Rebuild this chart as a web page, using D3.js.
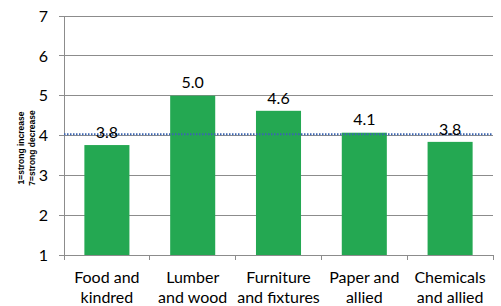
<!DOCTYPE html>
<html><head><meta charset="utf-8">
<script src="https://cdn.jsdelivr.net/npm/d3@7"></script>
<style>body{margin:0;background:#fff}svg{display:block}</style>
</head><body>
<svg id="c" width="501" height="306"></svg>
<script>
const categories = [["Food and","kindred"],["Lumber","and wood"],["Furniture","and fixtures"],["Paper and","allied"],["Chemicals","and allied"]];
const values = [3.76, 5.0, 4.62, 4.07, 3.84];
const valueLabels = ["3.8","5.0","4.6","4.1","3.8"];
const refValue = 4.03;
const yTicks = [1,2,3,4,5,6,7];
const yTitle = ["1=strong increase","7=strong decrease"];

const font = "Lato, 'Open Sans', sans-serif";
const svg = d3.select("#c");
const L = 64, R = 493, T = 16, B = 255;
const x = d3.scaleBand().domain(d3.range(values.length)).range([L, R]).paddingInner(0.475).paddingOuter(0.2375);
const y = d3.scaleLinear().domain([1,7]).range([B, T]);

// gridlines
svg.append("g").selectAll("line").data(yTicks).join("line")
  .attr("x1", L-5).attr("x2", R).attr("y1", d=>y(d)).attr("y2", d=>y(d))
  .attr("stroke", "#8c8c8c").attr("stroke-width", 1).attr("shape-rendering","crispEdges");
// y axis line
svg.append("line").attr("x1", L).attr("x2", L).attr("y1", T).attr("y2", B)
  .attr("stroke", "#8c8c8c").attr("shape-rendering","crispEdges");
// y tick labels
svg.append("g").selectAll("text").data(yTicks).join("text")
  .attr("x", L-16).attr("y", d=>y(d)).attr("dy","0.36em").attr("text-anchor","end")
  .attr("font-family", font).attr("font-size", 16).attr("fill","#000").text(d=>d);

// bars
svg.append("g").selectAll("rect").data(values).join("rect")
  .attr("x", (d,i)=>x(i)).attr("width", x.bandwidth())
  .attr("y", d=>y(d)).attr("height", d=>y(1)-y(d))
  .attr("fill", "#24a852");

// x axis ticks
const band = (R-L)/values.length;
svg.append("g").selectAll("line").data(d3.range(values.length+1)).join("line")
  .attr("x1", i=>L+i*band).attr("x2", i=>L+i*band).attr("y1", B).attr("y2", B+5)
  .attr("stroke", "#8c8c8c").attr("shape-rendering","crispEdges");

// reference line
svg.append("line").attr("x1", L).attr("x2", R).attr("y1", y(refValue)).attr("y2", y(refValue))
  .attr("stroke", "#3b64b0").attr("stroke-width", 2).attr("stroke-dasharray","1.5,1.5");

// value labels
svg.append("g").selectAll("text").data(values).join("text")
  .attr("x", (d,i)=>x(i)+x.bandwidth()/2).attr("y", d=>y(d)-13).attr("dy","0.36em")
  .attr("text-anchor","middle").attr("font-family", font).attr("font-size", 16).attr("fill","#000")
  .text((d,i)=>valueLabels[i]);

// category labels
const cg = svg.append("g").selectAll("text").data(categories).join("text")
  .attr("text-anchor","middle").attr("font-family", font).attr("font-size", 16).attr("fill","#000");
cg.selectAll("tspan").data((d,i)=>d.map(t=>({t,i}))).join("tspan")
  .attr("x", d=>x(d.i)+x.bandwidth()/2).attr("y", (d,j)=>277+j*20).attr("dy","0.36em").text(d=>d.t);

// y title
const yt = svg.append("text").attr("transform","translate(0,148) rotate(-90)")
  .attr("text-anchor","middle").attr("font-family","'Liberation Sans', Arial, sans-serif")
  .attr("font-size", 8.5).attr("font-weight","bold").attr("fill","#000");
yt.selectAll("tspan").data(yTitle).join("tspan").attr("x",0).attr("y",(d,i)=>21+i*11).attr("dy","0.35em").text(d=>d);
</script>
</body></html>
